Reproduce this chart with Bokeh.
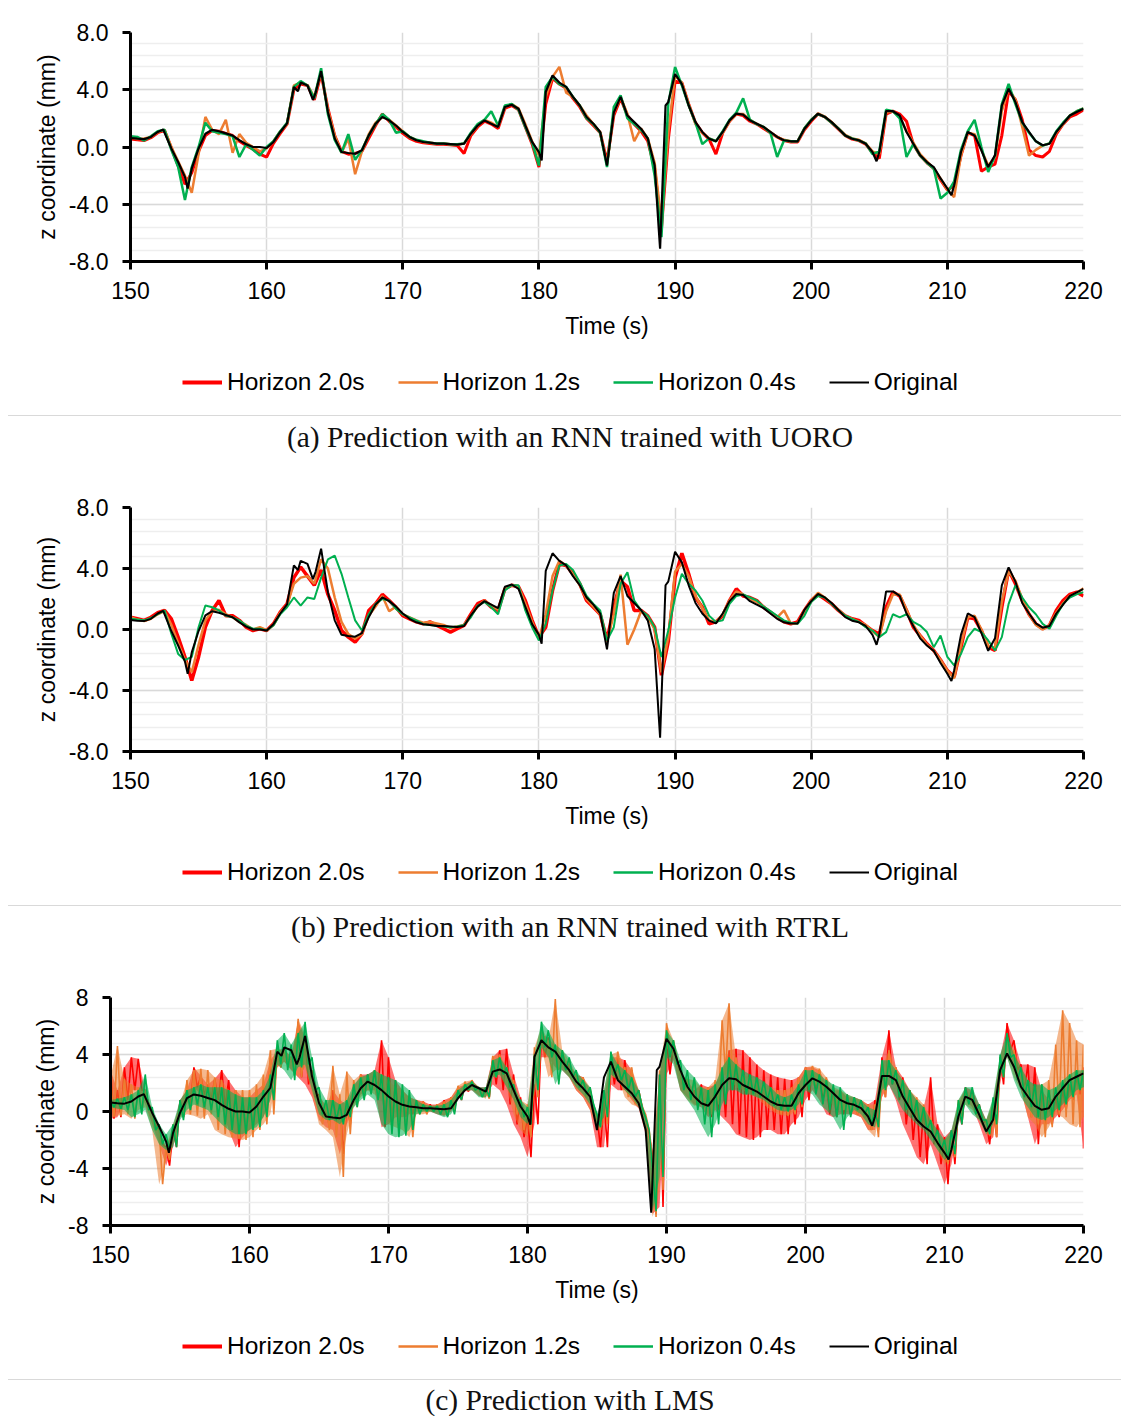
import numpy as np
from bokeh.plotting import figure
from bokeh.models import Range1d, FixedTicker, PrintfTickFormatter, Legend, LegendItem, Div
from bokeh.layouts import column
from bokeh.embed import file_html
from bokeh.resources import INLINE

# ---------------- data ----------------
SERIES_LABELS = ["Horizon 2.0s", "Horizon 1.2s", "Horizon 0.4s", "Original"]
X_TICKS = [150, 160, 170, 180, 190, 200, 210, 220]
Y_TICKS = [-8, -4, 0, 4, 8]
CAPTIONS = ["(a) Prediction with an RNN trained with UORO",
            "(b) Prediction with an RNN trained with RTRL",
            "(c) Prediction with LMS"]

# original signal (time in s, z in mm)
ORIG_T = [150.0, 150.5, 151.0, 151.5, 152.0, 152.4, 153.0, 153.5, 154.0, 154.2, 154.5,
          155.0, 155.5, 156.0, 156.5, 157.0, 157.5, 158.0, 158.5, 159.0, 159.5,
          160.0, 160.5, 161.0, 161.5, 162.0, 162.3, 162.5, 163.0, 163.4, 163.6, 164.0, 164.5,
          165.0, 165.5, 166.0, 166.5, 167.0, 167.5, 168.0, 168.5, 169.0, 169.5,
          170.0, 170.5, 171.0, 171.5, 172.0, 172.5, 173.0, 173.5, 174.0, 174.5,
          175.0, 175.5, 176.0, 176.5, 177.0, 177.5, 178.0, 178.5, 179.0, 179.5,
          180.0, 180.2, 180.5, 181.0, 181.5, 182.0, 182.5, 183.0, 183.5, 184.0, 184.5,
          185.0, 185.5, 186.0, 186.5, 187.0, 187.5, 188.0, 188.5, 188.8, 188.9, 189.0, 189.3, 189.5,
          190.0, 190.5, 191.0, 191.5, 192.0, 192.5, 193.0, 193.5, 194.0, 194.5,
          195.0, 195.5, 196.0, 196.5, 197.0, 197.5, 198.0, 198.5, 199.0, 199.5,
          200.0, 200.5, 201.0, 201.5, 202.0, 202.5, 203.0, 203.5, 204.0, 204.5, 204.8,
          205.0, 205.5, 206.0, 206.5, 207.0, 207.5, 208.0, 208.5, 209.0, 209.5,
          210.0, 210.3, 210.5, 211.0, 211.5, 212.0, 212.5, 213.0, 213.5, 214.0, 214.5,
          215.0, 215.5, 216.0, 216.5, 217.0, 217.5, 218.0, 218.5, 219.0, 219.5,
          220.0]
ORIG_Z = [0.63, 0.58, 0.55, 0.70, 1.05, 1.22, -0.10, -1.05, -2.10, -2.90, -1.50,
          -0.10, 0.93, 1.20, 1.10, 0.95, 0.80, 0.47, 0.19, 0.00, 0.00,
          -0.07, 0.35, 1.05, 1.65, 4.20, 3.90, 4.50, 4.30, 3.30, 3.80, 5.30, 2.45,
          0.60, -0.35, -0.42, -0.47, -0.23, 0.81, 1.63, 2.10, 1.86, 1.50,
          1.05, 0.70, 0.47, 0.35, 0.30, 0.23, 0.23, 0.20, 0.16, 0.23,
          0.93, 1.50, 1.86, 1.63, 1.40, 2.80, 2.95, 2.67, 1.50, 0.35,
          -0.35, -0.93, 3.84, 5.00, 4.50, 4.20, 3.50, 2.90, 2.10, 1.63, 1.05,
          -1.30, 2.40, 3.50, 2.20, 1.74, 1.28, 0.58, -1.28, -5.70, -7.10, -4.60, 2.90, 3.14,
          5.10, 4.40, 2.90, 1.74, 1.05, 0.58, 0.40, 1.05, 1.86, 2.33,
          2.26, 1.86, 1.63, 1.40, 1.05, 0.70, 0.47, 0.40, 0.40, 1.28,
          1.86, 2.33, 2.10, 1.74, 1.28, 0.81, 0.58, 0.47, 0.23, -0.35, -1.00,
          -0.35, 2.50, 2.50, 2.20, 1.05, 0.23, -0.58, -1.05, -1.40, -2.20,
          -2.90, -3.37, -2.67, -0.35, 1.05, 0.81, -0.23, -1.40, -0.58, 2.90, 4.07,
          3.14, 1.74, 1.05, 0.40, 0.12, 0.23, 1.05, 1.63, 2.20, 2.44,
          2.67]

# predictions sampled every 0.5 s from 150 s to 220 s
T_GRID = [150 + 0.5 * i for i in range(141)]

# (a) UORO
RED_A = [0.55, 0.50, 0.45, 0.65, 1.00, 1.15, -0.05, -1.30, -2.60, -1.80,
         -0.30, 0.80, 1.15, 1.10, 0.95, 0.80, 0.40, 0.10, -0.15, -0.50,
         -0.70, 0.25, 0.95, 1.60, 4.00, 4.40, 4.30, 3.30, 5.10, 2.70,
         0.80, -0.30, -0.50, -0.45, -0.30, 0.60, 1.50, 2.30, 1.80, 1.40,
         0.95, 0.60, 0.40, 0.30, 0.25, 0.20, 0.20, 0.15, 0.10, -0.45,
         0.80, 1.40, 1.80, 1.60, 1.30, 2.70, 2.90, 2.60, 1.40, 0.20,
         -1.40, 3.00, 4.80, 4.40, 4.10, 3.40, 2.80, 2.00, 1.50, 1.00,
         -1.00, 2.20, 3.40, 2.20, 1.60, 1.10, 0.40, -1.50, -5.70, 0.50,
         4.60, 4.50, 3.00, 1.70, 1.00, 0.55, -0.50, 1.00, 1.80, 2.30,
         2.20, 1.80, 1.60, 1.30, 1.00, 0.70, 0.45, 0.35, 0.35, 1.20,
         1.80, 2.30, 2.10, 1.70, 1.25, 0.80, 0.55, 0.45, 0.20, -0.40,
         -0.80, 2.30, 2.50, 2.30, 1.80, 0.20, -0.60, -1.10, -1.50, -2.30,
         -3.00, -2.70, -0.60, 1.00, 0.80, -1.70, -1.40, -1.20, 0.80, 3.90,
         3.30, 1.90, -0.20, -0.60, -0.70, -0.30, 0.90, 1.60, 2.10, 2.30,
         2.60]
ORANGE_A = [0.70, 0.55, 0.60, 0.70, 1.05, 1.20, 0.00, -1.00, -2.00, -3.20,
            -0.50, 2.10, 1.20, 0.90, 1.90, -0.40, 0.90, 0.30, 0.00, -0.30,
            -0.10, 0.40, 1.10, 1.60, 4.30, 4.50, 4.30, 3.50, 5.20, 2.60,
            0.80, -0.40, 0.60, -1.90, -0.30, 0.90, 1.70, 2.10, 1.90, 1.50,
            1.10, 0.70, 0.50, 0.35, 0.30, 0.25, 0.25, 0.20, 0.15, 0.25,
            0.90, 1.50, 1.90, 1.70, 1.40, 2.80, 3.00, 2.70, 1.60, 0.40,
            -0.60, 3.50, 4.90, 5.60, 3.80, 3.50, 2.90, 2.20, 1.60, 1.05,
            -1.20, 2.40, 3.50, 2.30, 0.40, 1.30, 0.60, -1.10, -5.30, 1.00,
            5.00, 4.50, 3.00, 1.60, 1.00, 0.60, 0.40, 1.00, 1.80, 2.30,
            2.30, 1.90, 1.60, 1.40, 1.05, 0.70, 0.50, 0.40, 0.40, 1.30,
            1.90, 2.35, 2.10, 1.75, 1.30, 0.85, 0.60, 0.50, 0.25, -0.30,
            -0.50, 2.40, 2.50, 2.10, 1.10, 0.30, -0.50, -1.00, -1.50, -2.20,
            -3.00, -3.50, -0.60, 1.00, 0.90, -0.20, -1.30, -0.70, 2.50, 4.10,
            3.30, 1.40, -0.60, -0.20, 0.10, 0.25, 1.00, 1.60, 2.20, 2.50,
            2.70]
GREEN_A = [0.75, 0.70, 0.45, 0.75, 1.10, 1.20, -0.20, -1.40, -3.70, -1.40,
           0.00, 1.70, 1.10, 1.00, 0.90, 0.75, -0.70, 0.20, -0.20, -0.60,
           0.00, 0.40, 1.10, 1.70, 4.20, 4.60, 4.30, 3.40, 5.50, 2.30,
           0.50, -0.40, 0.90, -0.90, -0.20, 0.80, 1.60, 2.30, 1.90, 1.00,
           1.10, 0.70, 0.50, 0.40, 0.30, 0.25, 0.25, 0.20, 0.20, 0.25,
           1.00, 1.60, 1.90, 2.50, 1.50, 2.90, 3.00, 2.60, 1.40, 0.30,
           -1.30, 4.20, 4.90, 4.40, 4.20, 3.50, 2.90, 2.00, 1.60, 1.00,
           -1.40, 2.80, 3.60, 2.00, 1.60, 1.20, 0.60, -2.00, -6.30, 3.00,
           5.60, 4.30, 2.90, 1.70, 0.20, 0.60, 0.40, 1.10, 1.90, 2.40,
           3.40, 1.90, 1.60, 1.40, 1.00, -0.70, 0.45, 0.40, 0.40, 1.30,
           1.90, 2.30, 2.10, 1.70, 1.30, 0.80, 0.60, 0.45, 0.25, -0.50,
           -0.30, 2.60, 2.50, 2.00, -0.70, 0.20, -0.60, -1.10, -1.50, -3.60,
           -3.20, -2.40, -0.20, 1.10, 1.90, 0.00, -1.75, -0.60, 3.00, 4.40,
           3.00, 1.70, 1.00, 0.40, 0.10, 0.25, 1.10, 1.70, 2.20, 2.50,
           2.70]

# (b) RTRL
RED_B = [0.80, 0.70, 0.60, 0.80, 1.10, 1.25, 0.70, -0.50, -1.80, -3.35,
         -1.80, 0.15, 1.25, 1.90, 0.90, 0.90, 0.60, 0.15, -0.07, 0.05,
         -0.07, 0.37, 1.14, 1.68, 3.40, 4.10, 3.50, 2.90, 3.90, 2.30,
         1.25, -0.07, -0.50, -0.83, -0.28, 1.25, 1.68, 2.30, 1.90, 1.46,
         0.90, 0.70, 0.50, 0.37, 0.50, 0.26, 0.05, -0.17, 0.05, 0.26,
         1.00, 1.70, 1.90, 1.46, 1.25, 2.67, 2.90, 2.80, 1.90, 0.60,
         -0.50, 0.15, 2.56, 4.30, 4.20, 3.65, 3.00, 1.90, 1.46, 1.00,
         -0.70, 1.46, 3.20, 2.80, 1.25, 1.25, 0.90, 0.15, -3.00, -0.80,
         3.40, 5.00, 3.65, 2.10, 1.46, 0.37, 0.50, 0.90, 1.90, 2.67,
         2.20, 2.10, 1.90, 1.46, 1.14, 0.80, 0.50, 0.37, 0.50, 1.25,
         1.90, 2.30, 2.00, 1.68, 1.25, 0.90, 0.70, 0.60, 0.26, -0.07,
         -0.30, 1.46, 2.45, 2.20, 1.25, 0.15, -0.40, -0.94, -1.38, -2.00,
         -2.70, -3.10, -1.16, 0.80, 0.70, -0.07, -1.16, -1.38, 1.46, 3.90,
         3.00, 1.90, 1.00, 0.37, 0.05, 0.26, 1.25, 1.90, 2.30, 2.45,
         2.20]
ORANGE_B = [0.80, 0.65, 0.55, 0.70, 1.00, 1.20, 0.30, -0.90, -2.00, -2.80,
            -1.00, 0.60, 1.20, 1.30, 1.00, 0.80, 0.50, 0.30, 0.00, 0.15,
            -0.05, 0.30, 1.10, 1.60, 3.00, 3.40, 3.50, 3.00, 4.60, 4.00,
            2.10, 0.50, -0.30, -0.60, -0.30, 0.90, 1.50, 2.20, 1.20, 1.50,
            1.00, 0.80, 0.60, 0.45, 0.50, 0.40, 0.30, 0.10, 0.20, 0.30,
            0.90, 1.50, 1.90, 1.60, 1.30, 2.70, 2.90, 2.80, 1.70, 0.50,
            -0.60, 1.00, 3.50, 4.50, 4.20, 3.60, 2.90, 2.00, 1.50, 1.00,
            -0.80, 1.00, 3.60, -1.00, 0.00, 1.20, 0.80, 0.00, -2.80, -0.50,
            3.80, 4.30, 3.50, 2.20, 1.40, 0.60, 0.50, 1.00, 1.90, 2.50,
            2.30, 2.00, 1.80, 1.50, 1.10, 0.80, 1.25, 0.40, 0.40, 1.20,
            1.90, 2.40, 2.10, 1.70, 1.30, 0.90, 0.70, 0.50, 0.30, -0.10,
            -0.50, 1.20, 2.30, 2.30, 1.30, 0.30, -0.40, -1.00, -1.40, -2.00,
            -2.70, -3.20, -1.00, 0.80, 0.90, 0.00, -1.10, -1.20, 1.80, 3.80,
            3.20, 2.00, 1.00, 0.30, 0.00, 0.30, 1.10, 1.70, 2.20, 2.40,
            2.70]
GREEN_B = [0.70, 0.65, 0.60, 0.75, 1.00, 1.25, -0.28, -1.60, -2.00, -1.80,
           0.15, 1.57, 1.46, 1.25, 0.90, 0.80, 0.60, 0.26, 0.05, 0.05,
           -0.07, 0.26, 1.00, 1.46, 2.10, 1.57, 2.10, 2.00, 3.40, 4.60,
           4.85, 3.65, 2.10, 0.60, -0.07, 1.00, 1.68, 2.00, 1.90, 1.35,
           1.00, 0.80, 0.60, 0.35, 0.30, 0.25, 0.20, 0.15, 0.20, 0.30,
           0.80, 1.57, 1.80, 1.46, 1.00, 2.56, 2.90, 2.90, 1.25, 0.15,
           -0.72, 0.37, 2.56, 4.20, 4.30, 3.90, 3.10, 2.20, 1.68, 1.25,
           -0.72, 0.15, 3.00, 3.76, 1.90, 1.25, 0.90, 0.15, -1.80, -0.07,
           2.10, 3.65, 3.00, 2.56, 1.90, 0.90, 0.50, 0.60, 1.68, 2.20,
           2.30, 2.10, 1.90, 1.50, 1.20, 0.90, 0.60, 0.45, 0.37, 0.90,
           1.80, 2.20, 2.10, 1.68, 1.25, 0.90, 0.70, 0.50, 0.15, -0.07,
           -0.50, -0.17, 1.00, 0.80, 1.00, 0.50, 0.26, -0.17, -1.16, -0.40,
           -1.80, -2.36, -1.60, -0.50, 0.05, -0.17, -0.72, -1.38, -0.50, 1.68,
           2.90, 2.10, 1.46, 1.00, 0.37, 0.05, 0.90, 1.68, 2.10, 2.30,
           2.45]

# (c) LMS: upper / lower extent of the noisy prediction in each half second
ORANGE_C_HI = [2.4, 4.6, 2.3, 1.9, 1.7, 1.5, 0.0, -1.3, -2.5, -0.9,
               0.5, 2.2, 2.9, 3.0, 2.9, 2.4, 2.2, 1.5, 1.5, 1.5,
               1.5, 1.9, 2.6, 4.3, 4.4, 4.3, 3.8, 6.5, 5.4, 2.6,
               1.0, 0.5, 3.2, 1.2, 2.8, 2.2, 2.6, 2.4, 2.9, 2.6,
               2.2, 1.7, 1.5, 1.0, 0.8, 0.7, 0.4, 0.5, 0.7, 1.0,
               1.8, 2.1, 2.2, 1.7, 1.5, 3.9, 4.0, 3.1, 2.2, 0.8,
               0.5, 4.5, 5.9, 5.0, 7.9, 4.3, 3.6, 2.6, 2.4, 1.7,
               -0.4, 1.5, 4.0, 4.2, 3.1, 3.1, 1.5, -0.2, -3.2, 2.9,
               6.2, 5.0, 2.6, 2.3, 2.2, 1.7, 1.7, 2.2, 6.4, 7.6,
               3.8, 2.6, 2.4, 2.2, 1.9, 1.7, 1.5, 1.5, 1.7, 2.4,
               3.1, 3.2, 3.0, 2.4, 1.7, 1.5, 1.2, 1.0, 0.8, 0.5,
               0.5, 3.1, 4.3, 3.1, 2.2, 1.5, 1.0, 0.5, -0.4, -1.6,
               -2.0, -1.6, 0.8, 1.5, 1.2, 0.1, -0.6, 0.8, 3.8, 5.2,
               4.3, 3.1, 2.2, 1.7, 1.9, 2.2, 4.7, 7.1, 6.2, 5.0,
               4.7]
ORANGE_C_LO = [-0.4, -0.3, -0.2, -0.5, 0.1, 0.3, -1.3, -5.1, -3.4, -2.0,
               -0.4, -0.2, -0.3, -0.5, -0.2, -1.3, -1.6, -1.8, -1.9, -2.0,
               -1.8, -1.3, -0.9, -0.2, 3.1, 3.5, 3.0, 2.4, 3.1, 1.2,
               -0.9, -1.3, -1.8, -4.6, -1.6, 0.3, 1.0, 1.5, 1.2, 0.8,
               -0.9, -1.1, -1.3, -1.8, -0.2, -0.2, 0.0, 0.0, -0.3, 0.1,
               1.0, 1.5, 1.6, 1.1, 0.9, 2.4, 2.6, 1.7, -0.2, -1.3,
               -1.8, 1.0, 4.5, 2.4, 2.9, 3.1, 2.4, 1.5, 1.0, 0.1,
               -1.3, -0.9, 2.4, 2.4, 1.0, 0.5, 0.3, -1.3, -7.4, -5.5,
               4.5, 3.8, 1.5, 0.8, 0.4, 0.5, -0.2, 0.5, 2.6, 2.4,
               1.7, 1.5, 1.2, 1.0, 0.5, 0.1, -0.2, -0.3, -0.2, 0.3,
               1.7, 1.9, 1.5, 1.0, 0.4, 0.1, 0.1, -0.2, -0.4, -1.3,
               -1.8, 1.0, 2.6, 1.7, 0.8, -0.2, -0.6, -1.1, -1.8, -2.7,
               -3.7, -3.2, -0.4, 0.5, 0.1, -0.6, -1.6, -1.8, 2.4, 3.8,
               2.4, 1.5, -0.4, -0.9, -1.8, -1.1, -0.2, -0.4, -0.9, -1.1,
               -0.4]
RED_C_HI = [2.9, 1.5, 3.1, 3.8, 3.7, 1.5, 0.1, -1.3, -2.5, -1.3,
            0.8, 1.5, 3.1, 2.5, 1.9, 2.3, 2.9, 2.2, 1.5, 1.0,
            1.0, 1.5, 1.9, 3.6, 4.3, 4.4, 3.8, 6.3, 5.2, 2.9,
            1.2, 0.3, 1.5, 0.8, 0.5, 1.7, 2.6, 2.6, 2.9, 5.0,
            3.8, 2.2, 1.5, 1.0, 0.8, 0.7, 0.5, 0.5, 0.8, 1.0,
            1.7, 1.9, 2.2, 1.7, 1.7, 3.8, 4.3, 4.4, 2.6, 1.0,
            -0.4, 1.9, 5.4, 5.2, 4.5, 4.0, 3.3, 2.6, 2.4, 1.5,
            -0.4, 0.8, 3.8, 3.8, 3.6, 2.9, 1.5, -0.4, -3.2, 2.6,
            5.0, 4.7, 2.6, 2.2, 1.5, 1.9, 1.7, 1.9, 2.9, 4.3,
            4.4, 4.3, 3.8, 3.3, 2.9, 2.6, 2.4, 2.3, 2.2, 2.4,
            3.1, 3.1, 2.9, 1.9, 1.5, 1.5, 1.0, 1.0, 0.8, 0.5,
            0.8, 3.8, 5.7, 3.1, 2.4, 1.5, 0.8, 0.3, 2.4, -0.9,
            -1.8, -1.3, 0.5, 1.7, 1.5, 0.5, -0.6, 0.5, 3.8, 6.2,
            5.0, 3.3, 3.3, 3.1, 1.5, 0.8, 1.0, 1.5, 1.9, 2.4,
            3.1]
RED_C_LO = [-0.5, -0.4, 0.8, 1.5, 1.5, 0.5, -0.9, -2.3, -3.8, -2.5,
            -0.4, 0.5, 1.7, 1.2, 0.8, 0.8, 0.3, -1.3, -2.5, -1.8,
            -1.3, -0.9, -0.4, 0.8, 3.1, 3.5, 2.9, 2.4, 1.9, 1.0,
            -0.6, -1.1, -1.3, -3.0, -0.9, 0.5, 1.2, 1.5, 1.5, -1.1,
            -0.9, -0.4, -0.4, -0.2, 0.0, 0.0, 0.0, -0.2, -0.3, 0.0,
            0.8, 1.4, 1.5, 1.1, 1.0, 1.9, 1.5, 0.5, -0.9, -1.8,
            -3.2, -0.9, 3.8, 3.8, 3.1, 2.9, 2.4, 1.5, 1.0, 0.1,
            -2.5, -2.5, 1.9, 1.5, 1.5, 0.8, 0.2, -1.6, -7.2, -6.7,
            2.6, 3.6, 1.5, 1.0, 0.5, 0.3, -0.4, 0.1, -0.4, -0.9,
            -1.6, -1.8, -2.0, -1.8, -1.3, -1.3, -1.6, -1.6, -0.9, -0.4,
            0.8, 1.5, 0.8, -0.2, -0.4, -0.2, -0.2, -0.2, -0.4, -1.3,
            -1.3, 1.0, 1.9, 0.8, -0.9, -2.0, -3.2, -3.7, -2.3, -3.7,
            -5.1, -3.7, -0.9, 0.8, 0.3, -0.9, -2.3, -1.8, 1.9, 4.3,
            2.9, 1.5, -0.4, -2.3, -0.9, -0.9, -0.4, 0.1, 0.8, 1.2,
            -2.6]
GREEN_C_HI = [0.8, 0.9, 1.0, 1.2, 1.5, 2.6, 0.3, -0.9, -1.6, -0.9,
              0.8, 1.5, 1.7, 1.9, 1.7, 1.7, 1.7, 1.5, 1.2, 1.0,
              1.0, 1.0, 1.5, 2.6, 5.0, 5.5, 4.7, 5.5, 6.3, 3.8,
              1.7, 0.8, 0.8, 0.5, 0.8, 1.9, 2.4, 2.6, 2.9, 2.6,
              2.4, 2.2, 1.9, 1.5, 0.8, 0.5, 0.4, 0.4, 0.5, 0.8,
              1.5, 1.9, 2.1, 1.7, 1.7, 3.6, 3.8, 3.1, 1.9, 0.8,
              0.3, 4.0, 6.3, 5.7, 4.7, 4.3, 3.8, 2.9, 2.2, 1.7,
              -0.2, 1.5, 4.2, 3.3, 2.9, 2.4, 1.5, -0.4, -4.1, 2.6,
              5.7, 5.0, 3.6, 2.9, 2.4, 1.7, 1.5, 1.9, 3.1, 3.8,
              3.3, 2.9, 2.6, 2.4, 2.1, 1.7, 1.2, 1.0, 1.2, 1.9,
              2.9, 2.9, 2.6, 2.2, 1.9, 1.7, 1.2, 1.0, 0.8, 0.3,
              0.1, 3.6, 3.6, 2.9, 2.2, 1.5, 0.8, 0.3, -0.6, -1.3,
              -2.0, -1.3, 0.8, 1.7, 1.7, 0.5, -0.6, 1.0, 4.0, 5.5,
              4.0, 3.1, 2.2, 1.9, 1.9, 1.5, 1.7, 2.2, 2.6, 2.9,
              2.9]
GREEN_C_LO = [0.3, 0.2, 0.1, -0.4, -0.2, 0.1, -1.3, -2.3, -2.7, -2.5,
              -0.6, 0.1, 0.5, 0.3, 0.1, -0.4, -0.9, -1.3, -1.6, -1.6,
              -1.3, -1.1, -0.4, 0.8, 3.3, 2.9, 2.2, 3.1, 3.3, 1.5,
              -0.2, -0.6, -0.6, -0.9, -0.4, 0.3, 0.8, 1.2, 0.8, -0.9,
              -1.6, -1.8, -1.7, -1.3, -0.2, 0.0, 0.0, -0.2, -0.4, -0.2,
              0.8, 1.5, 1.5, 1.0, 1.0, 2.4, 2.6, 1.7, 0.8, -0.4,
              -0.9, 1.5, 4.5, 3.8, 1.9, 2.9, 2.4, 1.7, 1.2, 0.5,
              -1.1, -0.4, 2.6, 2.2, 1.5, 1.0, 0.3, -1.3, -7.0, -4.6,
              3.8, 3.3, 1.5, 0.8, 0.1, -0.9, -1.8, -0.9, 0.5, 1.5,
              1.5, 1.2, 1.2, 1.0, 0.8, 0.4, 0.1, 0.0, 0.1, 0.5,
              1.5, 1.2, 0.5, 0.1, -0.4, -1.3, -0.4, 0.1, -0.2, -0.9,
              -1.1, 1.5, 1.9, 1.0, 0.1, -0.4, -0.9, -1.3, -2.0, -2.7,
              -3.4, -3.0, -0.9, 0.5, -0.2, -0.6, -1.6, -0.9, 2.4, 3.8,
              2.2, 1.0, 0.3, -0.4, -0.6, -0.4, 0.1, 0.5, 1.0, 1.5,
              1.7]

for _arr in (RED_A, ORANGE_A, GREEN_A, RED_B, ORANGE_B, GREEN_B, ORANGE_C_HI, ORANGE_C_LO,
             RED_C_HI, RED_C_LO, GREEN_C_HI, GREEN_C_LO):
    assert len(_arr) == len(T_GRID), len(_arr)
assert len(ORIG_T) == len(ORIG_Z), (len(ORIG_T), len(ORIG_Z))

# ---------------- style ----------------
SANS = "Liberation Sans"
SERIF = "Liberation Serif"
RED, ORANGE, GREEN, BLACK = "#FF0000", "#ED7D31", "#00B050", "#000000"
PAGE_W = 1121
FRAME_RIGHT = 1083
MINOR = [round(v, 2) for v in np.arange(-7.2, 7.3, 0.8)]


def base_fig(frame_left, frame_h, fmt):
    frame_w = FRAME_RIGHT - frame_left
    p = figure(frame_width=frame_w, frame_height=frame_h,
               min_border_left=frame_left, min_border_right=PAGE_W - FRAME_RIGHT,
               min_border_top=32, min_border_bottom=88, frame_align=False,
               x_range=Range1d(150, 220), y_range=Range1d(-8, 8),
               output_backend="svg", toolbar_location=None)
    p.outline_line_color = None
    p.xaxis.ticker = FixedTicker(ticks=X_TICKS)
    p.yaxis.ticker = FixedTicker(ticks=Y_TICKS, minor_ticks=MINOR)
    p.yaxis.formatter = PrintfTickFormatter(format=fmt)
    for ax in (p.xaxis, p.yaxis):
        ax.axis_line_width = 3
        ax.axis_line_color = BLACK
        ax.major_tick_line_width = 3
        ax.major_tick_line_color = BLACK
        ax.major_tick_out = 8
        ax.major_tick_in = 0
        ax.minor_tick_line_color = None
        ax.major_label_text_font = SANS
        ax.major_label_text_font_size = "23px"
        ax.major_label_text_color = BLACK
        ax.axis_label_text_font = SANS
        ax.axis_label_text_font_size = "23px"
        ax.axis_label_text_font_style = "normal"
        ax.axis_label_text_color = BLACK
    p.xaxis.axis_label = "Time (s)"
    p.yaxis.axis_label = "z coordinate (mm)"
    p.xaxis.major_label_standoff = 12
    p.xaxis.axis_label_standoff = 11
    p.yaxis.major_label_standoff = 14
    p.yaxis.axis_label_standoff = 6
    p.xgrid.grid_line_color = "#d9d9d9"
    p.xgrid.grid_line_width = 1.5
    p.ygrid.grid_line_color = "#d9d9d9"
    p.ygrid.grid_line_width = 1.5
    p.ygrid.minor_grid_line_color = "#eeeeee"
    p.ygrid.minor_grid_line_width = 1.5
    return p


LEGEND_STYLE = [(RED, 4), (ORANGE, 2.5), (GREEN, 2.5), (BLACK, 2)]


def legend_fig():
    # the sample lines live outside the visible range; only their legend glyphs show
    p = figure(width=PAGE_W, height=66, x_range=Range1d(0, 1), y_range=Range1d(0, 1),
               x_axis_location=None, y_axis_location=None, min_border=0, frame_align=False,
               output_backend="svg", toolbar_location=None)
    p.grid.visible = False
    p.outline_line_color = None
    rs = [p.line(x=T_GRID[:2], y=ORIG_Z[:2], line_color=c, line_width=w) for c, w in LEGEND_STYLE]
    items = [LegendItem(label=l, renderers=[r]) for l, r in zip(SERIES_LABELS, rs)]
    leg = Legend(items=items, location=(182, 19), orientation="horizontal",
                 glyph_width=40, glyph_height=26, label_standoff=5, spacing=33,
                 padding=0, margin=0, border_line_color=None, background_fill_alpha=0,
                 label_text_font=SANS, label_text_font_size="24.5px", label_height=26,
                 label_text_color=BLACK)
    p.add_layout(leg, "center")
    return p


def caption(text, h, lh):
    html = ('<div style="box-sizing:border-box;margin-left:8px;padding-left:11px;'
            'border-top:1px solid #d9d9d9;width:%dpx;height:%dpx;text-align:center;'
            'font-family:\'%s\',serif;font-size:29.5px;line-height:%dpx;color:#111111;'
            'white-space:nowrap;">%s</div>'
            % (PAGE_W - 8, h, SERIF, lh, text))
    return Div(text=html, width=PAGE_W, height=h, margin=0)


def zigzag(hi, lo):
    xs, ys = [], []
    for t, h, l in zip(T_GRID, hi, lo):
        xs += [t, min(t + 0.25, 220.0)]
        ys += [h, l]
    return xs, ys


# ---------------- panel (a) ----------------
pa = base_fig(130, 229, "%.1f")
pa.line(T_GRID, RED_A, line_color=RED, line_width=3)
pa.line(T_GRID, ORANGE_A, line_color=ORANGE, line_width=2.5)
pa.line(T_GRID, GREEN_A, line_color=GREEN, line_width=2.5)
pa.line(ORIG_T, ORIG_Z, line_color=BLACK, line_width=2.2)

# ---------------- panel (b) ----------------
pb = base_fig(130, 244, "%.1f")
pb.line(T_GRID, RED_B, line_color=RED, line_width=3.5)
pb.line(T_GRID, ORANGE_B, line_color=ORANGE, line_width=2.5)
pb.line(T_GRID, GREEN_B, line_color=GREEN, line_width=2)
pb.line(ORIG_T, ORIG_Z, line_color=BLACK, line_width=2)

# ---------------- panel (c) ----------------
pc = base_fig(110, 228, "%d")
for hi, lo, col in ((RED_C_HI, RED_C_LO, RED),
                    (ORANGE_C_HI, ORANGE_C_LO, ORANGE),
                    (GREEN_C_HI, GREEN_C_LO, GREEN)):
    pc.varea(x=T_GRID, y1=lo, y2=hi, fill_color=col, fill_alpha=0.55)
    xz, yz = zigzag(hi, lo)
    pc.line(xz, yz, line_color=col, line_width=1.6)
pc.line(ORIG_T, ORIG_Z, line_color=BLACK, line_width=2)

layout = column(pa, legend_fig(), caption(CAPTIONS[0], 60, 42),
                pb, legend_fig(), caption(CAPTIONS[1], 60, 42),
                pc, legend_fig(), caption(CAPTIONS[2], 37, 40))

open("out.html", "w").write(file_html(layout, INLINE))
